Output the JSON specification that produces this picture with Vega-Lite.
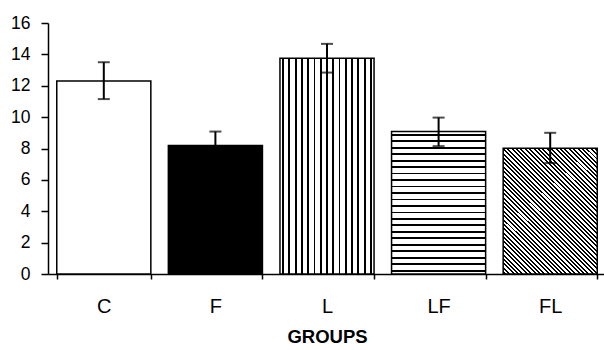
{
  "$schema": "https://vega.github.io/schema/vega-lite/v6.json",
  "autosize": "none",
  "padding": {"left": 48, "top": 23, "right": 0, "bottom": 76},
  "width": 558,
  "height": 251,
  "background": "white",
  "config": {"view": {"stroke": null}},
  "data": {"values": [
    {"group": "C", "mean": 12.3, "lo": 11.15, "hi": 13.5},
    {"group": "F", "mean": 8.19, "lo": 7.3, "hi": 9.08},
    {"group": "L", "mean": 13.76, "lo": 12.84, "hi": 14.67},
    {"group": "LF", "mean": 9.08, "lo": 8.15, "hi": 9.97},
    {"group": "FL", "mean": 8.02, "lo": 7.07, "hi": 9.0}
  ]},
  "encoding": {
    "x": {
      "field": "group", "type": "nominal",
      "scale": {"domain": ["C", "F", "L", "LF", "FL"], "paddingInner": 0.157, "paddingOuter": 0.0785},
      "axis": {
        "title": "GROUPS", "labelAngle": 0, "tickBand": "extent",
        "domainColor": "black", "domainWidth": 1.5, "tickColor": "black", "tickWidth": 1.5, "tickSize": 5,
        "labelFont": "Liberation Sans", "labelFontSize": 20, "labelColor": "black", "labelBaseline": "alphabetic", "labelPadding": 33,
        "titleFont": "Liberation Sans", "titleFontSize": 18.5, "titleFontWeight": "bold", "titleColor": "black",
        "titleBaseline": "alphabetic", "titleY": 68
      }
    },
    "y": {"type": "quantitative", "scale": {"domain": [0, 16], "nice": false},
      "axis": {"title": null, "values": [0, 2, 4, 6, 8, 10, 12, 14, 16], "grid": false, "labelOverlap": false, "labelFlush": false,
        "domainColor": "black", "domainWidth": 1.5, "tickColor": "black", "tickWidth": 1.5, "tickSize": 7,
        "labelFont": "Liberation Sans", "labelFontSize": 17.5, "labelColor": "black", "labelPadding": 11}}
  },
  "layer": [
    {
      "transform": [{"filter": "datum.group === 'C' || datum.group === 'F'"}],
      "mark": {"type": "bar", "stroke": "black", "strokeWidth": 1.5},
      "encoding": {
        "y": {"field": "mean"},
        "fill": {"field": "group", "type": "nominal", "scale": {"domain": ["C", "F"], "range": ["white", "#000000"]}, "legend": null}
      }
    },
    {
      "transform": [{"filter": "datum.group === 'L'"}],
      "mark": {"type": "bar", "stroke": "black", "strokeWidth": 1.5,
        "fill": {"gradient": "linear", "x1": 0, "y1": 0, "x2": 1, "y2": 0, "stops": [
          {"offset": 0.0233, "color": "#fff"}, {"offset": 0.0233, "color": "#000"}, {"offset": 0.0433, "color": "#000"}, {"offset": 0.0433, "color": "#fff"},
          {"offset": 0.09, "color": "#fff"}, {"offset": 0.09, "color": "#000"}, {"offset": 0.11, "color": "#000"}, {"offset": 0.11, "color": "#fff"},
          {"offset": 0.1567, "color": "#fff"}, {"offset": 0.1567, "color": "#000"}, {"offset": 0.1767, "color": "#000"}, {"offset": 0.1767, "color": "#fff"},
          {"offset": 0.2233, "color": "#fff"}, {"offset": 0.2233, "color": "#000"}, {"offset": 0.2433, "color": "#000"}, {"offset": 0.2433, "color": "#fff"},
          {"offset": 0.29, "color": "#fff"}, {"offset": 0.29, "color": "#000"}, {"offset": 0.31, "color": "#000"}, {"offset": 0.31, "color": "#fff"},
          {"offset": 0.3567, "color": "#fff"}, {"offset": 0.3567, "color": "#000"}, {"offset": 0.3767, "color": "#000"}, {"offset": 0.3767, "color": "#fff"},
          {"offset": 0.4233, "color": "#fff"}, {"offset": 0.4233, "color": "#000"}, {"offset": 0.4433, "color": "#000"}, {"offset": 0.4433, "color": "#fff"},
          {"offset": 0.49, "color": "#fff"}, {"offset": 0.49, "color": "#000"}, {"offset": 0.51, "color": "#000"}, {"offset": 0.51, "color": "#fff"},
          {"offset": 0.5567, "color": "#fff"}, {"offset": 0.5567, "color": "#000"}, {"offset": 0.5767, "color": "#000"}, {"offset": 0.5767, "color": "#fff"},
          {"offset": 0.6233, "color": "#fff"}, {"offset": 0.6233, "color": "#000"}, {"offset": 0.6433, "color": "#000"}, {"offset": 0.6433, "color": "#fff"},
          {"offset": 0.69, "color": "#fff"}, {"offset": 0.69, "color": "#000"}, {"offset": 0.71, "color": "#000"}, {"offset": 0.71, "color": "#fff"},
          {"offset": 0.7567, "color": "#fff"}, {"offset": 0.7567, "color": "#000"}, {"offset": 0.7767, "color": "#000"}, {"offset": 0.7767, "color": "#fff"},
          {"offset": 0.8233, "color": "#fff"}, {"offset": 0.8233, "color": "#000"}, {"offset": 0.8433, "color": "#000"}, {"offset": 0.8433, "color": "#fff"},
          {"offset": 0.89, "color": "#fff"}, {"offset": 0.89, "color": "#000"}, {"offset": 0.91, "color": "#000"}, {"offset": 0.91, "color": "#fff"},
          {"offset": 0.9567, "color": "#fff"}, {"offset": 0.9567, "color": "#000"}, {"offset": 0.9767, "color": "#000"}, {"offset": 0.9767, "color": "#fff"}
        ]}},
      "encoding": {"y": {"field": "mean"}}
    },
    {
      "transform": [{"filter": "datum.group === 'LF'"}],
      "mark": {"type": "bar", "stroke": "black", "strokeWidth": 1.5,
        "fill": {"gradient": "linear", "x1": 0, "y1": 0, "x2": 0, "y2": 1, "stops": [
          {"offset": 0.016, "color": "#fff"}, {"offset": 0.016, "color": "#000"}, {"offset": 0.0287, "color": "#000"}, {"offset": 0.0287, "color": "#fff"},
          {"offset": 0.0615, "color": "#fff"}, {"offset": 0.0615, "color": "#000"}, {"offset": 0.0742, "color": "#000"}, {"offset": 0.0742, "color": "#fff"},
          {"offset": 0.1069, "color": "#fff"}, {"offset": 0.1069, "color": "#000"}, {"offset": 0.1196, "color": "#000"}, {"offset": 0.1196, "color": "#fff"},
          {"offset": 0.1524, "color": "#fff"}, {"offset": 0.1524, "color": "#000"}, {"offset": 0.1651, "color": "#000"}, {"offset": 0.1651, "color": "#fff"},
          {"offset": 0.1978, "color": "#fff"}, {"offset": 0.1978, "color": "#000"}, {"offset": 0.2105, "color": "#000"}, {"offset": 0.2105, "color": "#fff"},
          {"offset": 0.2433, "color": "#fff"}, {"offset": 0.2433, "color": "#000"}, {"offset": 0.256, "color": "#000"}, {"offset": 0.256, "color": "#fff"},
          {"offset": 0.2887, "color": "#fff"}, {"offset": 0.2887, "color": "#000"}, {"offset": 0.3014, "color": "#000"}, {"offset": 0.3014, "color": "#fff"},
          {"offset": 0.3342, "color": "#fff"}, {"offset": 0.3342, "color": "#000"}, {"offset": 0.3469, "color": "#000"}, {"offset": 0.3469, "color": "#fff"},
          {"offset": 0.3796, "color": "#fff"}, {"offset": 0.3796, "color": "#000"}, {"offset": 0.3923, "color": "#000"}, {"offset": 0.3923, "color": "#fff"},
          {"offset": 0.4251, "color": "#fff"}, {"offset": 0.4251, "color": "#000"}, {"offset": 0.4378, "color": "#000"}, {"offset": 0.4378, "color": "#fff"},
          {"offset": 0.4705, "color": "#fff"}, {"offset": 0.4705, "color": "#000"}, {"offset": 0.4832, "color": "#000"}, {"offset": 0.4832, "color": "#fff"},
          {"offset": 0.516, "color": "#fff"}, {"offset": 0.516, "color": "#000"}, {"offset": 0.5287, "color": "#000"}, {"offset": 0.5287, "color": "#fff"},
          {"offset": 0.5615, "color": "#fff"}, {"offset": 0.5615, "color": "#000"}, {"offset": 0.5742, "color": "#000"}, {"offset": 0.5742, "color": "#fff"},
          {"offset": 0.6069, "color": "#fff"}, {"offset": 0.6069, "color": "#000"}, {"offset": 0.6196, "color": "#000"}, {"offset": 0.6196, "color": "#fff"},
          {"offset": 0.6524, "color": "#fff"}, {"offset": 0.6524, "color": "#000"}, {"offset": 0.6651, "color": "#000"}, {"offset": 0.6651, "color": "#fff"},
          {"offset": 0.6978, "color": "#fff"}, {"offset": 0.6978, "color": "#000"}, {"offset": 0.7105, "color": "#000"}, {"offset": 0.7105, "color": "#fff"},
          {"offset": 0.7433, "color": "#fff"}, {"offset": 0.7433, "color": "#000"}, {"offset": 0.756, "color": "#000"}, {"offset": 0.756, "color": "#fff"},
          {"offset": 0.7887, "color": "#fff"}, {"offset": 0.7887, "color": "#000"}, {"offset": 0.8014, "color": "#000"}, {"offset": 0.8014, "color": "#fff"},
          {"offset": 0.8342, "color": "#fff"}, {"offset": 0.8342, "color": "#000"}, {"offset": 0.8469, "color": "#000"}, {"offset": 0.8469, "color": "#fff"},
          {"offset": 0.8796, "color": "#fff"}, {"offset": 0.8796, "color": "#000"}, {"offset": 0.8923, "color": "#000"}, {"offset": 0.8923, "color": "#fff"},
          {"offset": 0.9251, "color": "#fff"}, {"offset": 0.9251, "color": "#000"}, {"offset": 0.9378, "color": "#000"}, {"offset": 0.9378, "color": "#fff"},
          {"offset": 0.9705, "color": "#fff"}, {"offset": 0.9705, "color": "#000"}, {"offset": 0.9832, "color": "#000"}, {"offset": 0.9832, "color": "#fff"}
        ]}},
      "encoding": {"y": {"field": "mean"}}
    },
    {
      "transform": [{"filter": "datum.group === 'FL'"}],
      "mark": {"type": "bar", "stroke": "black", "strokeWidth": 1.5,
        "fill": {"gradient": "linear", "x1": 0, "y1": 1, "x2": 0.837, "y2": -0.122, "stops": [
          {"offset": 0.005, "color": "#fff"}, {"offset": 0.005, "color": "#000"}, {"offset": 0.014, "color": "#000"}, {"offset": 0.014, "color": "#fff"},
          {"offset": 0.025, "color": "#fff"}, {"offset": 0.025, "color": "#000"}, {"offset": 0.034, "color": "#000"}, {"offset": 0.034, "color": "#fff"},
          {"offset": 0.045, "color": "#fff"}, {"offset": 0.045, "color": "#000"}, {"offset": 0.054, "color": "#000"}, {"offset": 0.054, "color": "#fff"},
          {"offset": 0.065, "color": "#fff"}, {"offset": 0.065, "color": "#000"}, {"offset": 0.074, "color": "#000"}, {"offset": 0.074, "color": "#fff"},
          {"offset": 0.085, "color": "#fff"}, {"offset": 0.085, "color": "#000"}, {"offset": 0.094, "color": "#000"}, {"offset": 0.094, "color": "#fff"},
          {"offset": 0.105, "color": "#fff"}, {"offset": 0.105, "color": "#000"}, {"offset": 0.114, "color": "#000"}, {"offset": 0.114, "color": "#fff"},
          {"offset": 0.125, "color": "#fff"}, {"offset": 0.125, "color": "#000"}, {"offset": 0.134, "color": "#000"}, {"offset": 0.134, "color": "#fff"},
          {"offset": 0.145, "color": "#fff"}, {"offset": 0.145, "color": "#000"}, {"offset": 0.154, "color": "#000"}, {"offset": 0.154, "color": "#fff"},
          {"offset": 0.165, "color": "#fff"}, {"offset": 0.165, "color": "#000"}, {"offset": 0.174, "color": "#000"}, {"offset": 0.174, "color": "#fff"},
          {"offset": 0.185, "color": "#fff"}, {"offset": 0.185, "color": "#000"}, {"offset": 0.194, "color": "#000"}, {"offset": 0.194, "color": "#fff"},
          {"offset": 0.205, "color": "#fff"}, {"offset": 0.205, "color": "#000"}, {"offset": 0.214, "color": "#000"}, {"offset": 0.214, "color": "#fff"},
          {"offset": 0.225, "color": "#fff"}, {"offset": 0.225, "color": "#000"}, {"offset": 0.234, "color": "#000"}, {"offset": 0.234, "color": "#fff"},
          {"offset": 0.245, "color": "#fff"}, {"offset": 0.245, "color": "#000"}, {"offset": 0.254, "color": "#000"}, {"offset": 0.254, "color": "#fff"},
          {"offset": 0.265, "color": "#fff"}, {"offset": 0.265, "color": "#000"}, {"offset": 0.274, "color": "#000"}, {"offset": 0.274, "color": "#fff"},
          {"offset": 0.285, "color": "#fff"}, {"offset": 0.285, "color": "#000"}, {"offset": 0.294, "color": "#000"}, {"offset": 0.294, "color": "#fff"},
          {"offset": 0.305, "color": "#fff"}, {"offset": 0.305, "color": "#000"}, {"offset": 0.314, "color": "#000"}, {"offset": 0.314, "color": "#fff"},
          {"offset": 0.325, "color": "#fff"}, {"offset": 0.325, "color": "#000"}, {"offset": 0.334, "color": "#000"}, {"offset": 0.334, "color": "#fff"},
          {"offset": 0.345, "color": "#fff"}, {"offset": 0.345, "color": "#000"}, {"offset": 0.354, "color": "#000"}, {"offset": 0.354, "color": "#fff"},
          {"offset": 0.365, "color": "#fff"}, {"offset": 0.365, "color": "#000"}, {"offset": 0.374, "color": "#000"}, {"offset": 0.374, "color": "#fff"},
          {"offset": 0.385, "color": "#fff"}, {"offset": 0.385, "color": "#000"}, {"offset": 0.394, "color": "#000"}, {"offset": 0.394, "color": "#fff"},
          {"offset": 0.405, "color": "#fff"}, {"offset": 0.405, "color": "#000"}, {"offset": 0.414, "color": "#000"}, {"offset": 0.414, "color": "#fff"},
          {"offset": 0.425, "color": "#fff"}, {"offset": 0.425, "color": "#000"}, {"offset": 0.434, "color": "#000"}, {"offset": 0.434, "color": "#fff"},
          {"offset": 0.445, "color": "#fff"}, {"offset": 0.445, "color": "#000"}, {"offset": 0.454, "color": "#000"}, {"offset": 0.454, "color": "#fff"},
          {"offset": 0.465, "color": "#fff"}, {"offset": 0.465, "color": "#000"}, {"offset": 0.474, "color": "#000"}, {"offset": 0.474, "color": "#fff"},
          {"offset": 0.485, "color": "#fff"}, {"offset": 0.485, "color": "#000"}, {"offset": 0.494, "color": "#000"}, {"offset": 0.494, "color": "#fff"},
          {"offset": 0.505, "color": "#fff"}, {"offset": 0.505, "color": "#000"}, {"offset": 0.514, "color": "#000"}, {"offset": 0.514, "color": "#fff"},
          {"offset": 0.525, "color": "#fff"}, {"offset": 0.525, "color": "#000"}, {"offset": 0.534, "color": "#000"}, {"offset": 0.534, "color": "#fff"},
          {"offset": 0.545, "color": "#fff"}, {"offset": 0.545, "color": "#000"}, {"offset": 0.554, "color": "#000"}, {"offset": 0.554, "color": "#fff"},
          {"offset": 0.565, "color": "#fff"}, {"offset": 0.565, "color": "#000"}, {"offset": 0.574, "color": "#000"}, {"offset": 0.574, "color": "#fff"},
          {"offset": 0.585, "color": "#fff"}, {"offset": 0.585, "color": "#000"}, {"offset": 0.594, "color": "#000"}, {"offset": 0.594, "color": "#fff"},
          {"offset": 0.605, "color": "#fff"}, {"offset": 0.605, "color": "#000"}, {"offset": 0.614, "color": "#000"}, {"offset": 0.614, "color": "#fff"},
          {"offset": 0.625, "color": "#fff"}, {"offset": 0.625, "color": "#000"}, {"offset": 0.634, "color": "#000"}, {"offset": 0.634, "color": "#fff"},
          {"offset": 0.645, "color": "#fff"}, {"offset": 0.645, "color": "#000"}, {"offset": 0.654, "color": "#000"}, {"offset": 0.654, "color": "#fff"},
          {"offset": 0.665, "color": "#fff"}, {"offset": 0.665, "color": "#000"}, {"offset": 0.674, "color": "#000"}, {"offset": 0.674, "color": "#fff"},
          {"offset": 0.685, "color": "#fff"}, {"offset": 0.685, "color": "#000"}, {"offset": 0.694, "color": "#000"}, {"offset": 0.694, "color": "#fff"},
          {"offset": 0.705, "color": "#fff"}, {"offset": 0.705, "color": "#000"}, {"offset": 0.714, "color": "#000"}, {"offset": 0.714, "color": "#fff"},
          {"offset": 0.725, "color": "#fff"}, {"offset": 0.725, "color": "#000"}, {"offset": 0.734, "color": "#000"}, {"offset": 0.734, "color": "#fff"},
          {"offset": 0.745, "color": "#fff"}, {"offset": 0.745, "color": "#000"}, {"offset": 0.754, "color": "#000"}, {"offset": 0.754, "color": "#fff"},
          {"offset": 0.765, "color": "#fff"}, {"offset": 0.765, "color": "#000"}, {"offset": 0.774, "color": "#000"}, {"offset": 0.774, "color": "#fff"},
          {"offset": 0.785, "color": "#fff"}, {"offset": 0.785, "color": "#000"}, {"offset": 0.794, "color": "#000"}, {"offset": 0.794, "color": "#fff"},
          {"offset": 0.805, "color": "#fff"}, {"offset": 0.805, "color": "#000"}, {"offset": 0.814, "color": "#000"}, {"offset": 0.814, "color": "#fff"},
          {"offset": 0.825, "color": "#fff"}, {"offset": 0.825, "color": "#000"}, {"offset": 0.834, "color": "#000"}, {"offset": 0.834, "color": "#fff"},
          {"offset": 0.845, "color": "#fff"}, {"offset": 0.845, "color": "#000"}, {"offset": 0.854, "color": "#000"}, {"offset": 0.854, "color": "#fff"},
          {"offset": 0.865, "color": "#fff"}, {"offset": 0.865, "color": "#000"}, {"offset": 0.874, "color": "#000"}, {"offset": 0.874, "color": "#fff"},
          {"offset": 0.885, "color": "#fff"}, {"offset": 0.885, "color": "#000"}, {"offset": 0.894, "color": "#000"}, {"offset": 0.894, "color": "#fff"},
          {"offset": 0.905, "color": "#fff"}, {"offset": 0.905, "color": "#000"}, {"offset": 0.914, "color": "#000"}, {"offset": 0.914, "color": "#fff"},
          {"offset": 0.925, "color": "#fff"}, {"offset": 0.925, "color": "#000"}, {"offset": 0.934, "color": "#000"}, {"offset": 0.934, "color": "#fff"},
          {"offset": 0.945, "color": "#fff"}, {"offset": 0.945, "color": "#000"}, {"offset": 0.954, "color": "#000"}, {"offset": 0.954, "color": "#fff"},
          {"offset": 0.965, "color": "#fff"}, {"offset": 0.965, "color": "#000"}, {"offset": 0.974, "color": "#000"}, {"offset": 0.974, "color": "#fff"},
          {"offset": 0.985, "color": "#fff"}, {"offset": 0.985, "color": "#000"}, {"offset": 0.994, "color": "#000"}, {"offset": 0.994, "color": "#fff"}
        ]}},
      "encoding": {"y": {"field": "mean"}}
    },
    {
      "mark": {"type": "rule", "color": "black", "strokeWidth": 2},
      "encoding": {"y": {"field": "lo"}, "y2": {"field": "hi"}}
    },
    {
      "mark": {"type": "tick", "color": "black", "thickness": 2, "size": 12, "orient": "horizontal"},
      "encoding": {"y": {"field": "hi"}}
    },
    {
      "mark": {"type": "tick", "color": "black", "thickness": 2, "size": 12, "orient": "horizontal"},
      "encoding": {"y": {"field": "lo"}}
    }
  ]
}
